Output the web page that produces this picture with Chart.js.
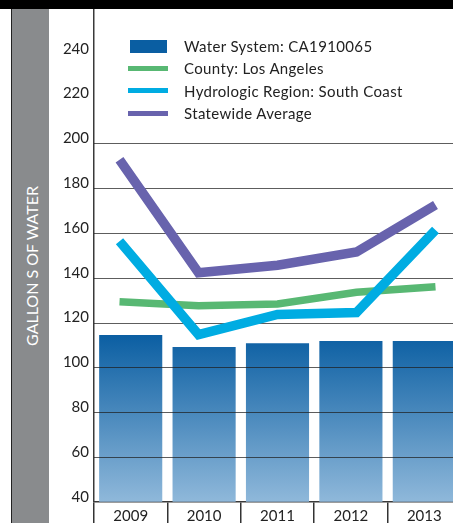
<!DOCTYPE html>
<html>
<head>
<meta charset="utf-8">
<script src="https://cdn.jsdelivr.net/npm/chart.js@4.4.1/dist/chart.umd.min.js"></script>
<style>
  html, body { margin: 0; padding: 0; background: #fff; overflow: hidden; }
  body { width: 453px; height: 523px; position: relative; font-family: Lato, sans-serif; }
  #topbar { position: absolute; left: 0; top: 0; width: 453px; height: 9px; background: #000; z-index: 3; }
  #band { position: absolute; left: 11px; top: 9px; width: 37px; height: 514px; background: #898b8d; border-left: 1px solid #222; }
  #band span { position: absolute; left: 19px; top: 257px; transform: translate(-50%, -50%) rotate(-90deg);
               white-space: nowrap; color: #fff; font-size: 16px; }
  #wrap { position: absolute; left: 0; top: 0; width: 461px; height: 523px; }
  #legend { position: absolute; left: 128px; top: 35px; z-index: 2; font-size: 15px; letter-spacing: 0.35px; color: #222; }
  #legend div { height: 22.3px; display: flex; align-items: center; }
  #legend i { display: inline-block; width: 40px; margin-right: 16px; }
</style>
</head>
<body>
<div id="topbar"></div>
<div id="band"><span>GALLON S OF WATER</span></div>
<div id="wrap"><canvas id="usage"></canvas></div>
<div id="legend"></div>
<script>
const years = ['2009', '2010', '2011', '2012', '2013'];
const waterSystem = [114.4, 109.1, 110.8, 111.7, 111.7];
const county = [129.3, 127.5, 128.3, 133.5, 136.0];
const hydroRegion = [156.3, 114.6, 123.6, 124.5, 161.3];
const statewide = [192.7, 142.2, 145.6, 151.5, 172.5];

const yMin = 40, yMax = 260, yStep = 20;
const tickTop = 240;   // highest labelled tick
const gridTop = 200;   // grid lines stop here, the key sits above
const lineSpread = 2.323;

const barTop = '#0a5ea2', barBottom = '#8fb8da';
const gridColor = 'rgba(30, 30, 30, 0.72)';
const font = { family: 'Lato', size: 15 };

function barFill(context) {
  const area = context.chart.chartArea;
  if (!area) return barTop;
  const y = context.chart.scales.y;
  const g = context.chart.ctx.createLinearGradient(0, y.getPixelForValue(115), 0, area.bottom);
  g.addColorStop(0, barTop);
  g.addColorStop(1, barBottom);
  return g;
}

// horizontal rules go over the bars but under the lines
const gridOverBars = {
  id: 'gridOverBars',
  afterDatasetDraw(chart, args) {
    if (args.index !== 0) return;
    const { ctx, chartArea, scales: { y } } = chart;
    ctx.save();
    ctx.strokeStyle = gridColor;
    ctx.lineWidth = 1;
    y.ticks.forEach(t => {
      if (t.value > yMin && t.value <= gridTop) {
        const py = Math.round(y.getPixelForValue(t.value)) + 0.5;
        ctx.beginPath();
        ctx.moveTo(chartArea.left, py);
        ctx.lineTo(chartArea.right, py);
        ctx.stroke();
      }
    });
    ctx.restore();
  }
};

const asPoints = vals => years.map((yr, i) => ({ x: +yr, y: vals[i] }));

const datasets = [
  { type: 'bar', label: 'Water System: CA1910065', data: waterSystem, backgroundColor: barFill,
    swatch: barTop, order: 3, grouped: false, barPercentage: 0.86, categoryPercentage: 1 },
  { type: 'line', label: 'County: Los Angeles', data: asPoints(county), xAxisID: 'xl',
    borderColor: '#58b873', borderWidth: 7.5, order: 2 },
  { type: 'line', label: 'Hydrologic Region: South Coast', data: asPoints(hydroRegion), xAxisID: 'xl',
    borderColor: '#00ace2', borderWidth: 9.5, order: 1 },
  { type: 'line', label: 'Statewide Average', data: asPoints(statewide), xAxisID: 'xl',
    borderColor: '#6863ad', borderWidth: 9.5, order: 0 }
];
datasets.forEach(d => {
  if (d.type === 'line') Object.assign(d, { pointRadius: 0, tension: 0, borderJoinStyle: 'miter', borderCapStyle: 'butt' });
});

new Chart(document.getElementById('usage'), {
  data: { labels: years, datasets },
  plugins: [gridOverBars],
  options: {
    responsive: true,
    maintainAspectRatio: false,
    animation: false,
    layout: { padding: { top: 9, left: 0, right: 0, bottom: 0 } },
    plugins: { legend: { display: false }, tooltip: { enabled: false } },
    scales: {
      x: {
        offset: true,
        grid: { offset: true, drawOnChartArea: false, color: '#333', lineWidth: 1.5, tickLength: 22 },
        border: { color: '#3a3a3a', width: 1.5 },
        ticks: { padding: -17, color: '#222', font },
        afterFit: s => { s.height = 21.3; s.paddingLeft = 0; s.paddingRight = 0; }
      },
      xl: { type: 'linear', display: false, min: 2011 - lineSpread, max: 2011 + lineSpread },
      y: {
        min: yMin, max: yMax,
        grid: { display: false, drawTicks: false },
        border: { color: '#3a3a3a', width: 1.5 },
        ticks: { stepSize: yStep, padding: 5, labelOffset: -5, color: '#222', font,
                 callback: v => (v > tickTop ? null : v) },
        afterFit: s => { s.width = 94; s.paddingTop = 0; s.paddingBottom = 0; }
      }
    }
  }
});

// key
const legend = document.getElementById('legend');
datasets.forEach(d => {
  const row = document.createElement('div');
  const sw = document.createElement('i');
  if (d.type === 'bar') {
    sw.style.cssText = `width:37px;height:13px;margin-left:2px;margin-right:17px;background:${d.swatch}`;
  } else {
    sw.style.cssText = `height:5px;background:${d.borderColor}`;
  }
  row.appendChild(sw);
  row.appendChild(document.createTextNode(d.label));
  legend.appendChild(row);
});
</script>
</body>
</html>
